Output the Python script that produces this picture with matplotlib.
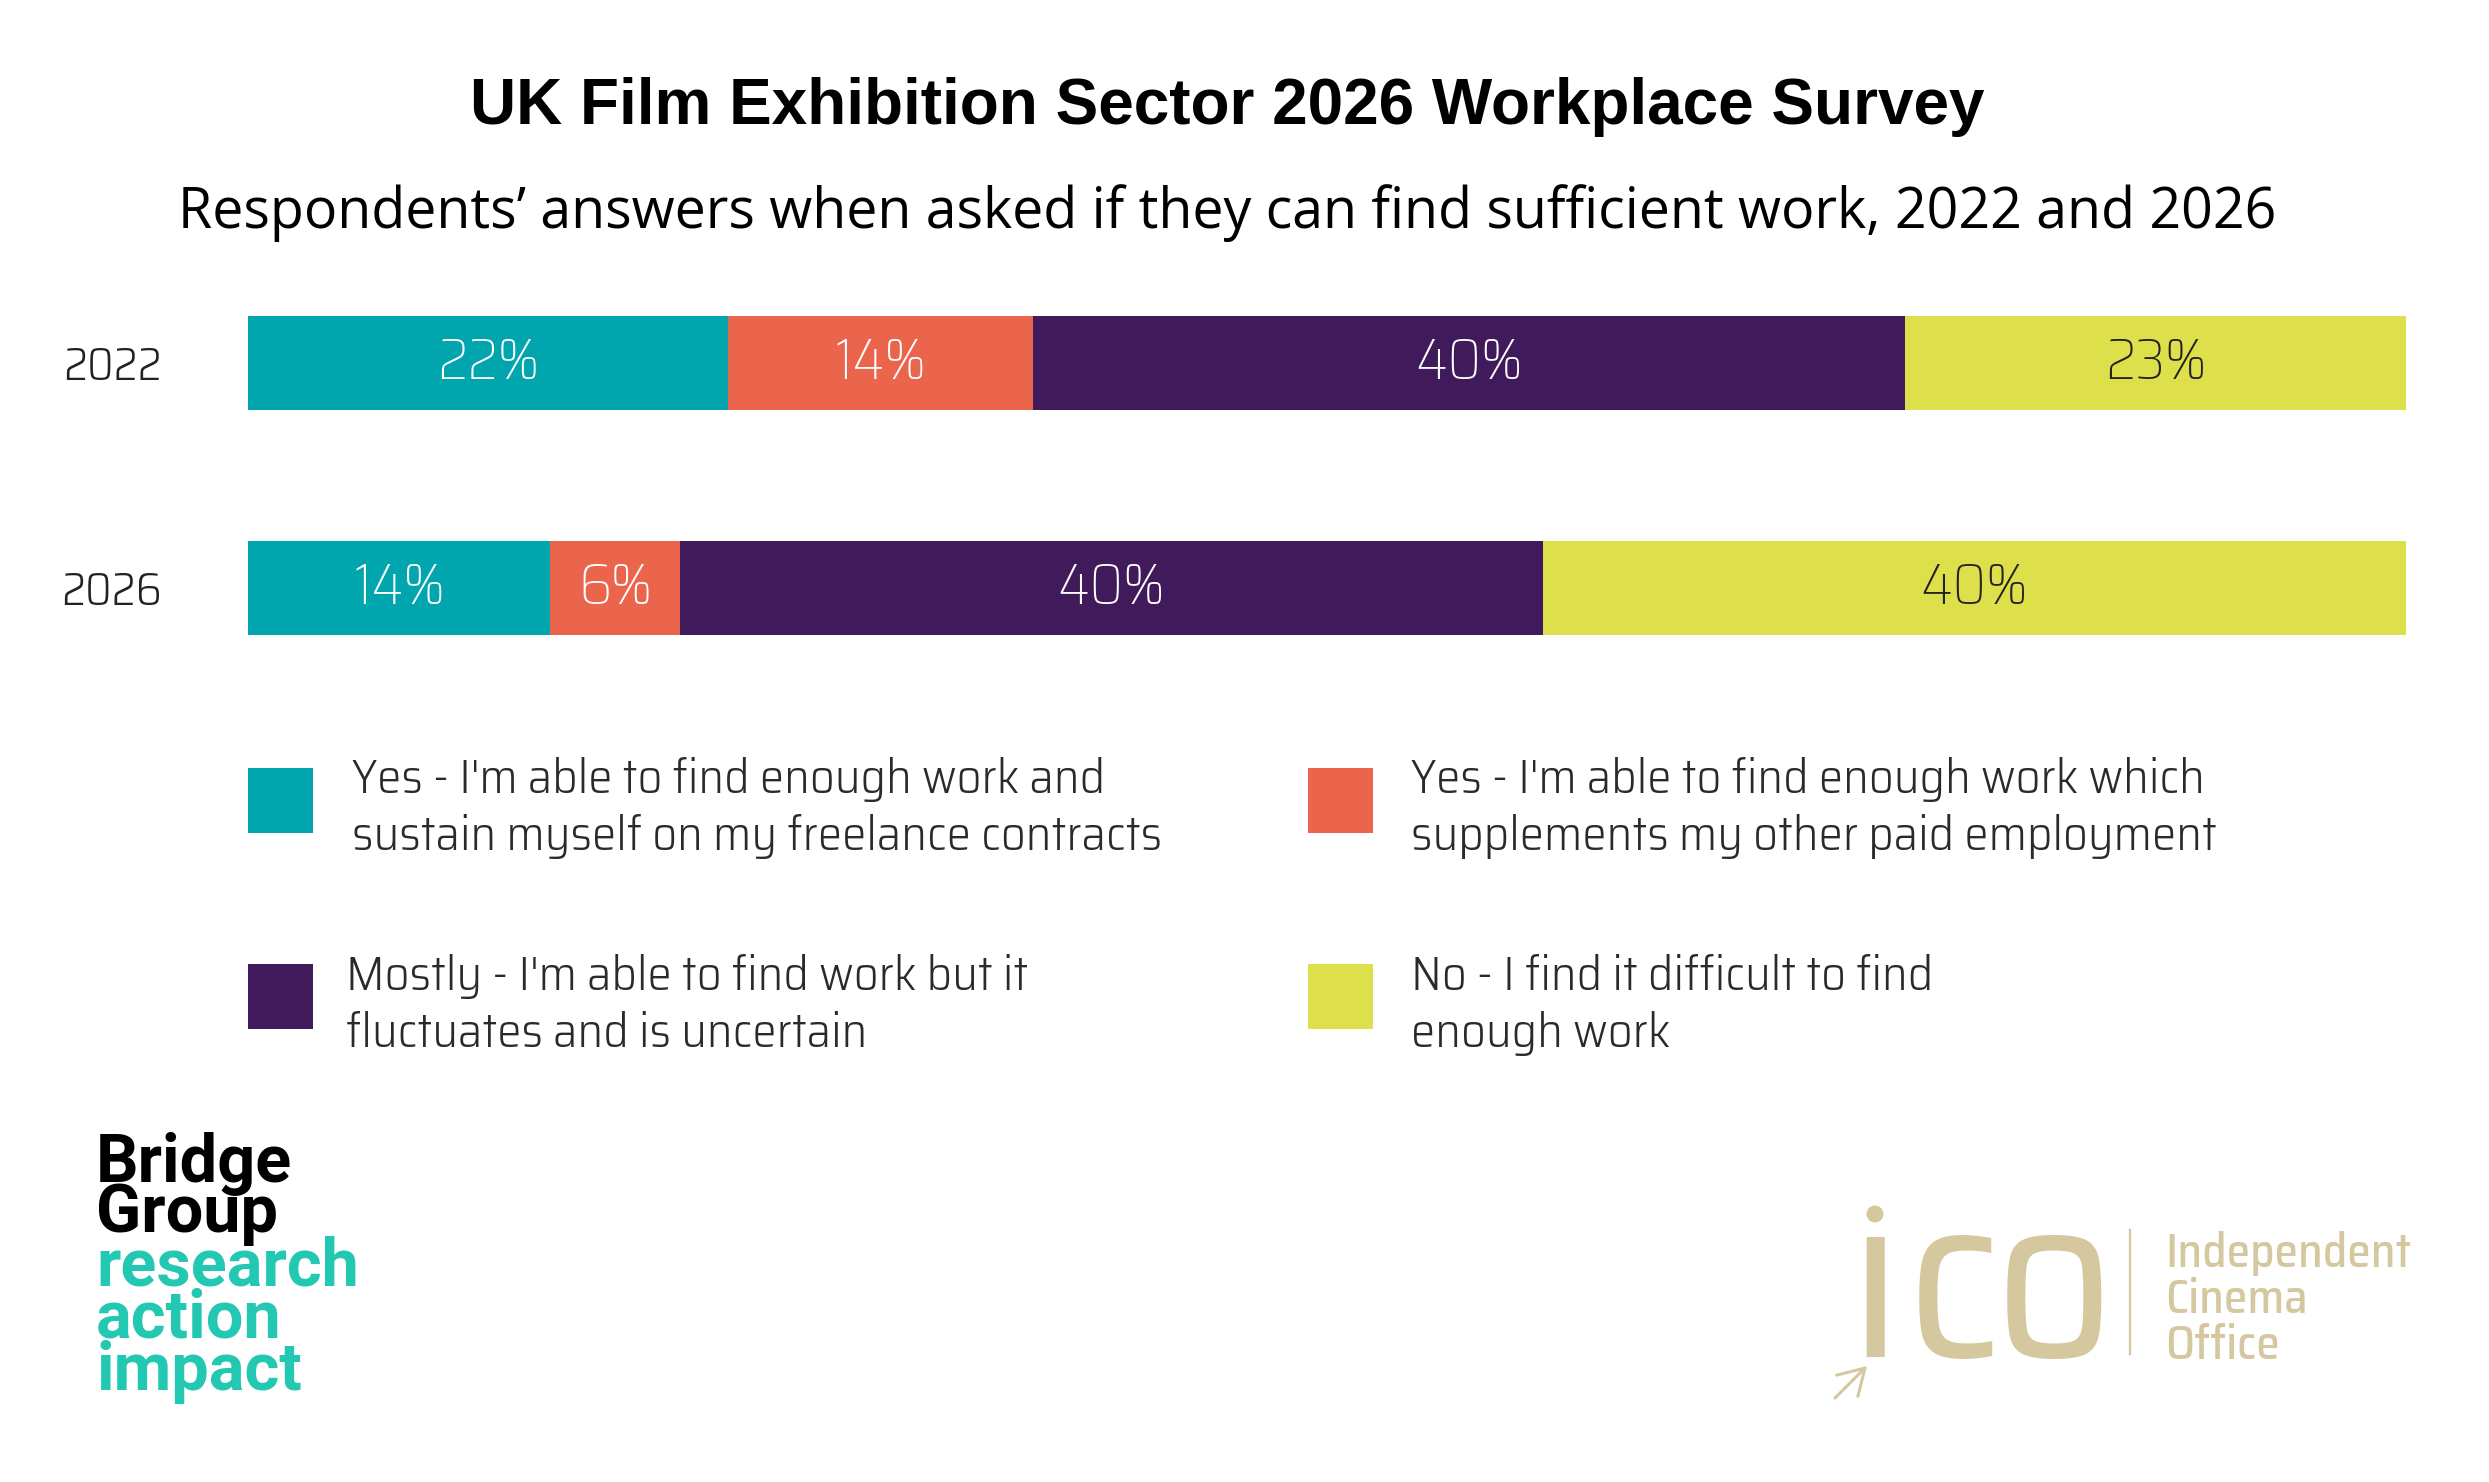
import matplotlib
matplotlib.use("Agg")
import matplotlib.pyplot as plt
from matplotlib.patches import Rectangle, FancyArrowPatch, Ellipse
from matplotlib.lines import Line2D
import numpy as np

W, H = 2489, 1482

years = ["2022", "2026"]
answers = [
    "Yes - I'm able to find enough work and\nsustain myself on my freelance contracts",
    "Yes - I'm able to find enough work which\nsupplements my other paid employment",
    "Mostly - I'm able to find work but it\nfluctuates and is uncertain",
    "No - I find it difficult to find\nenough work",
]
shares = {
    "2022": [22, 14, 40, 23],
    "2026": [14, 6, 40, 40],
}
colors = ["#00A5AE", "#EB644C", "#411A5C", "#DDE04B"]
label_colors = ["white", "white", "white", "#222222"]

title = "UK Film Exhibition Sector 2026 Workplace Survey"
subtitle = "Respondents\u2019 answers when asked if they can find sufficient work, 2022 and 2026"

THIN = "Saira SemiCondensed"


def fx(px):
    return px / W


def fy(py):
    return 1 - py / H


fig = plt.figure(figsize=(W / 100, H / 100), dpi=100)

fig.text(fx(1227), fy(124), title, ha="center", va="baseline",
         family="Liberation Sans", weight="bold", fontsize=46, color="black")
fig.text(fx(1227), fy(228), subtitle, ha="center", va="baseline",
         family="Open Sans", fontsize=40, color="black")

# stacked bars, each row scaled to fill the full width
ax = fig.add_axes([fx(248), fy(660), fx(2406) - fx(248), 370 / H])
for i, year in enumerate(years):
    vals = np.array(shares[year], dtype=float)
    widths = vals / vals.sum()
    lefts = np.concatenate([[0], np.cumsum(widths)[:-1]])
    ax.barh(i, widths, left=lefts, height=0.418, color=colors, linewidth=0)
    for v, l, w, tc in zip(vals, lefts, widths, label_colors):
        ax.text(l + w / 2, i, f"{v:.0f}%", ha="center", va="center",
                family=THIN, weight=250, fontsize=42, color=tc)

ax.set_xlim(0, 1)
ax.set_ylim(1.32, -0.324)
ax.set_yticks(range(len(years)), years)
ax.set_xticks([])
ax.tick_params(axis="y", length=0, pad=62)
for t in ax.get_yticklabels():
    t.set_family(THIN)
    t.set_weight(300)
    t.set_fontsize(33)
    t.set_color("#222222")
for s in ax.spines.values():
    s.set_visible(False)

# legend drawn as two columns of swatches and wrapped labels
sw_x = [248, 1308]
txt_x = [[352, 1411], [346, 1411]]
sw_top = [768, 964]
base1 = [793, 990]
line_gap = 57
for k, (lab, col) in enumerate(zip(answers, colors)):
    r, c = divmod(k, 2)
    fig.add_artist(Rectangle((fx(sw_x[c]), fy(sw_top[r] + 65)), 65 / W, 65 / H,
                             transform=fig.transFigure, color=col, lw=0))
    for j, line in enumerate(lab.split("\n")):
        fig.text(fx(txt_x[r][c]), fy(base1[r] + j * line_gap), line, ha="left",
                 va="baseline", family=THIN, weight=300, fontsize=35, color="#2a2a2a")

# Bridge Group logo
bg_teal = "#22C8B1"
for word, col, base in [("Bridge", "black", 1182), ("Group", "black", 1232),
                        ("research", bg_teal, 1285), ("action", bg_teal, 1338),
                        ("impact", bg_teal, 1390)]:
    fig.text(fx(96), fy(base), word, ha="left", va="baseline", family="Roboto",
             weight="bold", fontsize=48, color=col)

# Independent Cinema Office logo
ico = "#D5C79E"
for ch, cx in [("\u0131", 1875), ("c", 1954), ("o", 2054)]:
    fig.text(fx(cx), fy(1357), ch, ha="center", va="baseline",
             family=THIN, weight=400, fontsize=170, color=ico)
fig.add_artist(Ellipse((fx(1875), fy(1214)), 17 / W, 17 / H,
                       transform=fig.transFigure, color=ico, lw=0))
fig.add_artist(Line2D([fx(2130), fx(2130)], [fy(1230), fy(1354)],
                      transform=fig.transFigure, color=ico, lw=1.6))
for word, base in [("Independent", 1267), ("Cinema", 1313), ("Office", 1359)]:
    fig.text(fx(2165), fy(base), word, ha="left", va="baseline", family=THIN,
             weight=500, fontsize=34, color=ico)
fig.add_artist(FancyArrowPatch((fx(1833), fy(1400)), (fx(1869), fy(1364)),
                               transform=fig.transFigure, arrowstyle="->,head_length=0.5,head_width=0.3",
                               mutation_scale=36, color=ico, lw=2.2))

fig.savefig("out.png", dpi=100, facecolor="white")
